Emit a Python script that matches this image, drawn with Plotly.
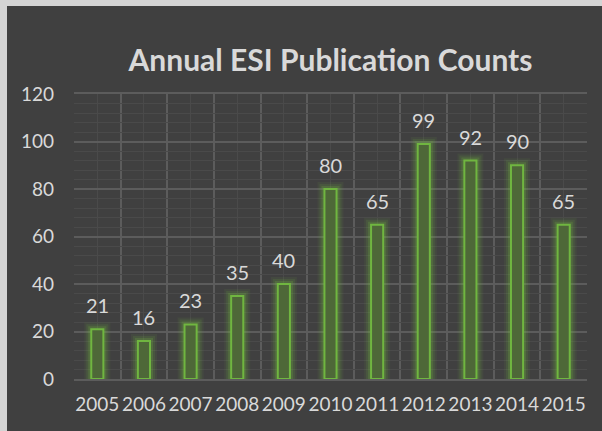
import plotly.graph_objects as go

# Annual publication counts
years = [2005, 2006, 2007, 2008, 2009, 2010, 2011, 2012, 2013, 2014, 2015]
counts = [21, 16, 23, 35, 40, 80, 65, 99, 92, 90, 65]
y_ticks = [0, 20, 40, 60, 80, 100, 120]
title_text = "Annual ESI Publication Counts"

BG = "#404040"
FRAME = "#d4d4d4"
GRID_MAJOR = "#5c5c5c"
GRID_MINOR = "#4a4a4a"
TEXT = "#d9d9d9"
GREEN = "#70b640"
FILL = "#4e6838"
FONT = "Lato"
BAR_W = 0.26

fig = go.Figure()

# soft glow around the columns, drawn as wide translucent outlines
for lw, alpha in [(14, 0.08), (10, 0.13), (6, 0.22)]:
    fig.add_trace(go.Bar(
        x=years, y=counts, width=BAR_W,
        marker=dict(color="rgba(0,0,0,0)",
                    line=dict(color=f"rgba(112,182,64,{alpha})", width=lw)),
        hoverinfo="skip", showlegend=False,
    ))

# main columns
fig.add_trace(go.Bar(
    x=years, y=counts, width=BAR_W,
    marker=dict(color=FILL, line=dict(color=GREEN, width=2)),
    showlegend=False,
))

# value labels above each column
for yr, v in zip(years, counts):
    fig.add_annotation(x=yr, y=v, text=str(v), showarrow=False,
                       yanchor="bottom", yshift=10,
                       font=dict(family=FONT, size=20, color=TEXT))

L, R, T, B = 74, 15, 94, 52
W, H = 602, 431
pw, ph = W - L - R, H - T - B

# light frame strips along the left and top edges of the panel
fig.add_shape(type="rect", xref="paper", yref="paper",
              x0=-L / pw - 0.01, x1=(7 - L) / pw,
              y0=-(B + 5) / ph, y1=(H - B + 5) / ph,
              fillcolor=FRAME, line=dict(width=0), layer="below")
fig.add_shape(type="rect", xref="paper", yref="paper",
              x0=-L / pw - 0.01, x1=(W + 5 - L) / pw,
              y0=(H - B - 6) / ph, y1=(H - B + 5) / ph,
              fillcolor=FRAME, line=dict(width=0), layer="below")

fig.update_layout(
    width=W, height=H,
    margin=dict(l=L, r=R, t=T, b=B, autoexpand=False),
    paper_bgcolor=BG, plot_bgcolor=BG,
    barmode="overlay",
    title=dict(text=f"<b>{title_text}</b>", x=0.5, xref="paper",
               y=1 - 60 / H, yref="container", yanchor="middle", xanchor="center",
               font=dict(family=FONT, size=30, color=TEXT)),
    font=dict(family=FONT, color=TEXT),
    xaxis=dict(
        range=[years[0] - 0.5, years[-1] + 0.5],
        tickvals=years, ticktext=[str(y) for y in years],
        tickfont=dict(size=19, color=TEXT), tickangle=0, automargin=False,
        showgrid=True, gridcolor=GRID_MINOR, gridwidth=1,
        minor=dict(tickvals=[y - 0.5 for y in years] + [years[-1] + 0.5],
                   showgrid=True, gridcolor=GRID_MAJOR, gridwidth=1.5),
        showline=True, mirror=True, linecolor=GRID_MAJOR, linewidth=1.5,
        zeroline=False, ticks="", ticklabelstandoff=7,
    ),
    yaxis=dict(
        range=[0, 120], tickvals=y_ticks, automargin=False,
        tickfont=dict(size=19, color=TEXT),
        showgrid=True, gridcolor=GRID_MAJOR, gridwidth=1.5,
        minor=dict(dtick=4, showgrid=True, gridcolor=GRID_MINOR, gridwidth=1),
        showline=False, zeroline=False, ticks="", ticklabelstandoff=19,
    ),
)

fig.write_html("out.html")
